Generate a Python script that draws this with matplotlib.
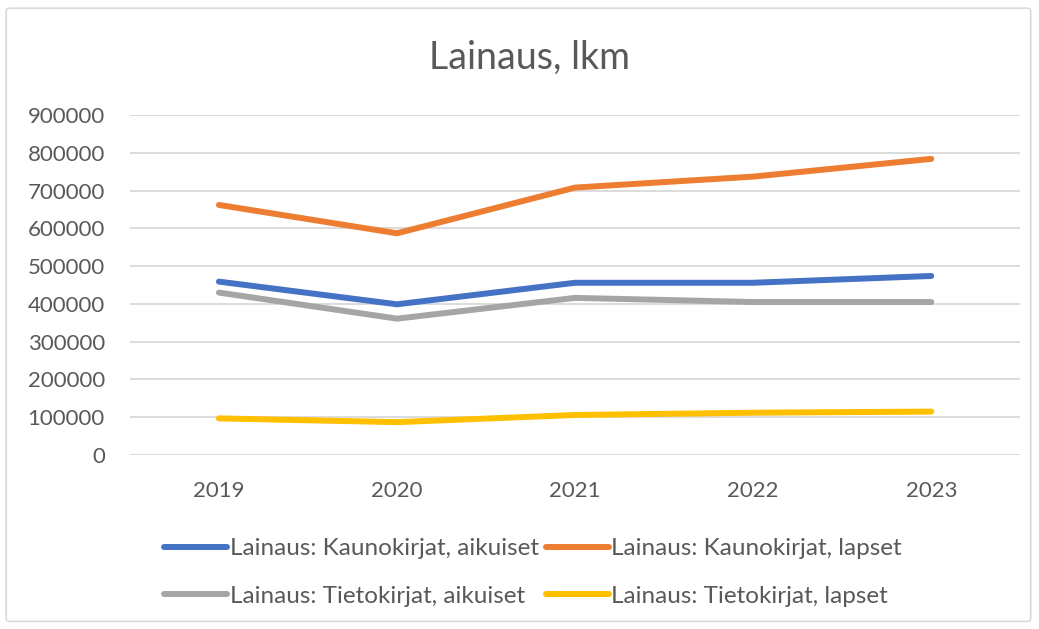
import matplotlib
matplotlib.use("Agg")
import matplotlib.pyplot as plt
from matplotlib.patches import FancyBboxPatch

years = ["2019", "2020", "2021", "2022", "2023"]
kauno_aikuiset = [459000, 399000, 456000, 456000, 474000]
kauno_lapset = [662000, 587000, 708000, 737000, 784000]
tieto_aikuiset = [430000, 361000, 416000, 405000, 405000]
tieto_lapset = [97000, 87000, 106000, 112000, 115000]
series_names = [
    "Lainaus: Kaunokirjat, aikuiset",
    "Lainaus: Kaunokirjat, lapset",
    "Lainaus: Tietokirjat, aikuiset",
    "Lainaus: Tietokirjat, lapset",
]
colors = ["#4472C4", "#ED7D31", "#A5A5A5", "#FFC000"]
yticks = list(range(0, 900001, 100000))

plt.rcParams['font.family'] = ['Lato', 'DejaVu Sans']
txt = "#595959"

fig = plt.figure(figsize=(10.39, 6.29), dpi=100)
fig.patches.append(FancyBboxPatch((0.006, 0.012), 0.986, 0.975, boxstyle="round,pad=0,rounding_size=0.004",
                                  transform=fig.transFigure, fill=False, edgecolor="#D9D9D9", linewidth=1.2))
ax = fig.add_axes([0.125, 0.2766, 0.857, 0.5405])
x = list(range(len(years)))
lines = []
for vals, c, name in zip([kauno_aikuiset, kauno_lapset, tieto_aikuiset, tieto_lapset], colors, series_names):
    l, = ax.plot(x, vals, color=c, linewidth=4.3, solid_capstyle="round", solid_joinstyle="round", label=name)
    lines.append(l)
ax.set_xlim(-0.5, 4.5)
ax.set_ylim(0, 900000)
ax.set_yticks(yticks)
ax.set_yticklabels([str(v) for v in yticks])
ax.set_xticks(x)
ax.set_xticklabels(years)
ax.grid(axis="y", color="#D9D9D9", linewidth=1.3)
ax.set_axisbelow(True)
for s in ax.spines.values():
    s.set_visible(False)
ax.tick_params(axis="both", length=0, labelsize=16, labelcolor=txt)
ax.tick_params(axis="y", pad=18)
ax.tick_params(axis="x", pad=19)

fig.text(0.51, 0.909, "Lainaus, lkm", ha="center", va="center", fontsize=27, color=txt)

order = [0, 2, 1, 3]
leg = fig.legend([lines[i] for i in order], [series_names[i] for i in order], ncol=2,
                 loc="center", bbox_to_anchor=(0.513, 0.09), frameon=False, fontsize=17.5,
                 handlelength=2.6, handletextpad=0.1, columnspacing=0.3, labelspacing=1.1,
                 labelcolor=txt)
fig.savefig("out.png", dpi=100, facecolor="white")
